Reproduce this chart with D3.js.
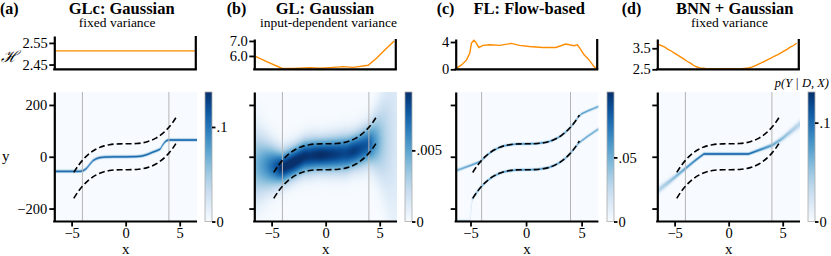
<!DOCTYPE html>
<html>
<head>
<meta charset="utf-8">
<script src="https://cdn.jsdelivr.net/npm/d3@7"></script>
<style>
  body { margin: 0; background: #fff; }
  svg text { font-family: "Liberation Serif", "DejaVu Serif", serif; fill: #000; }
</style>
</head>
<body>
<svg id="chart" width="831" height="256"></svg>
<script>
// ---- data ----
var panelLabels = ['(a)', '(b)', '(c)', '(d)'];
var titles = ['GLc: Gaussian', 'GL: Gaussian', 'FL: Flow-based', 'BNN + Gaussian'];
var subtitles = ['fixed variance', 'input-dependent variance', '', 'fixed variance'];

var xTicks = [-5, 0, 5];
var yTicks = [-200, 0, 200];
var trainEdges = [-4, 4];

// dashed bounds of the true function
var boundX = [-4.8, -4.4, -4.0, -3.6, -3.2, -2.8, -2.4, -2.0, -1.5, -1.0, -0.5, 0, 0.5, 1.0, 1.5, 2.0, 2.4, 2.8, 3.2, 3.6, 4.0, 4.4, 4.8];
var boundUpper = [-60.6, -35.2, -14, 3.3, 17.2, 28, 36.2, 42, 46.6, 49, 49.9, 50, 50.1, 51, 53.4, 58, 63.8, 72, 82.8, 96.7, 114, 135.2, 160.6];
var boundLower = [-160.6, -135.2, -114, -96.7, -82.8, -72, -63.8, -58, -53.4, -51, -50.1, -50, -49.9, -49, -46.6, -42, -36.2, -28, -17.2, -3.3, 14, 35.2, 60.6];

// entropy curves (top row)
var entX_a = [-6.6, 6.6];
var ent_a = [2.513, 2.513];
var entX_b = [-6.6, -5.44, -4.05, -2.97, -1.42, -0.46, 0.46, 1.7, 2.63, 4.02, 4.8, 5.57, 6.45];
var ent_b = [6.0, 5.62, 5.18, 5.16, 5.22, 5.18, 5.22, 5.29, 5.24, 5.38, 5.84, 6.4, 7.0];
var entX_c = [-6.33, -5.8, -5.34, -5.05, -4.9, -4.68, -4.5, -4.23, -3.85, -3.24, -2.34, -1.29, -0.54, 0.36, 1.56, 2.76, 3.66, 4.41, 4.71, 4.93, 5.32, 5.77, 6.22, 6.4];
var ent_c = [0.1, 0.64, 1.38, 2.37, 3.85, 4.24, 3.95, 3.2, 3.5, 3.6, 3.5, 3.8, 3.5, 3.35, 3.2, 3.2, 3.7, 3.45, 3.6, 3.1, 2.12, 1.38, 0.39, 0.15];
var entX_d = [-6.5, -6.2, -5.9, -5.6, -5.3, -5.0, -4.7, -4.4, -4.1, -3.8, -3.5, -3.2, -2.9, -2.6, -2.3, -2.0, -1.5, -1.0, -0.5, 0, 0.5, 1.0, 1.5, 1.9, 2.2, 2.5, 2.8, 3.1, 3.4, 3.7, 4.0, 4.3, 4.6, 4.9, 5.2, 5.5, 5.8, 6.1, 6.4];
var ent_d = [3.68, 3.62, 3.55, 3.45, 3.37, 3.27, 3.17, 3.08, 2.98, 2.87, 2.79, 2.68, 2.61, 2.57, 2.55, 2.53, 2.53, 2.52, 2.53, 2.52, 2.53, 2.52, 2.54, 2.56, 2.6, 2.66, 2.73, 2.8, 2.88, 2.96, 3.03, 3.12, 3.19, 3.27, 3.36, 3.45, 3.55, 3.63, 3.74];

// predictive means (bottom row)
var meanX_a = [-6.6, -4.2, -3.9, -3.6, -3.3, -3.0, -2.7, -2.4, -2.0, -1.0, 0, 1.0, 1.5, 2.0, 2.5, 2.9, 3.2, 3.4, 3.6, 3.8, 4.0, 6.6];
var mean_a = [-56, -56, -53, -44, -28, -14, -7, -3, -1, 0, 0, 1, 3, 9, 18, 24, 30, 44, 56, 63, 65, 65];
var meanX_b = [-6.6, -5.5, -4.5, -4.0, -3.0, -2.0, -1.0, 0, 1.0, 2.0, 3.0, 4.0, 4.5, 5.0, 5.5, 6.6];
var mean_b = [-30, -34, -40, -42, -22, 0, 6, 8, 10, 14, 28, 47, 55, 60, 65, 72];
var upperX_c = [-6.33, -5.5, -4.8, -4.4, -4.1, -3.8, -3.5, -3.0, -2.5, -2.0, -1.0, 0, 1.0, 2.0, 2.5, 3.0, 3.5, 4.0, 4.4, 4.7, 5.0, 5.6, 6.5];
var upper_c = [-54, -41, -30, -23, -18, -5, 7, 23, 34, 42, 49, 50, 51, 58, 66, 77, 93, 114, 135, 154, 166, 178, 194];
var lowerX_c = [-5.05, -4.95, -4.85, -4.6, -4.2, -3.8, -3.5, -3.0, -2.5, -2.0, -1.0, 0, 1.0, 2.0, 2.5, 3.0, 3.5, 4.0, 4.4, 4.7, 5.5, 6.5];
var lower_c = [-250, -200, -164, -147, -124, -105, -93, -77, -66, -58, -51, -50, -49, -42, -34, -23, -7, 14, 35, 52, 78, 107];
var sdX_c = [-6.33, -4.5, 4.5, 6.5];
var sd_c = [3.5, 2.5, 2.5, 3.5];
var meanX_d = [-6.6, -5.52, -4.08, -3.06, -2.3, -1.0, 0, 1.0, 1.84, 3.07, 4.05, 4.91, 6.6];
var mean_d = [-132, -97, -48, -13, 11, 11, 11, 11, 11, 30, 45, 69, 127];

// colorbar ranges and ticks
var cbMax = [0.137, 0.0091, 0.101, 0.131];
var cbTicks = [[0, 0.1], [0, 0.005], [0, 0.05], [0, 0.1]];
var cbLabels = [['0', '.1'], ['0', '.005'], ['0', '.05'], ['0', '.1']];

// entropy axis ranges and ticks
var entDomains = [[2.428, 2.582], [5.11, 7.13], [0, 4.44], [2.5, 3.94]];
var entTicks = [[2.45, 2.55], [6.0, 7.0], [0, 4], [2.5, 3.5]];
var entFormats = ['.2f', '.1f', 'd', '.1f'];

// ---- layout ----
var layout = [
  { left: 54.3,  xdom: [-6.6, 6.6],   cb: 205, label: 0,     titleX: 121.7, subX: 117.2, topY: 36 },
  { left: 254.3, xdom: [-6.6, 6.6],   cb: 405, label: 226.7, titleX: 325,   subX: 328.5, topY: 39 },
  { left: 455.7, xdom: [-6.33, 6.51], cb: 607, label: 436.7, titleX: 529.2, subX: 529,   topY: 39 },
  { left: 657.3, xdom: [-6.6, 6.6],   cb: 808, label: 621.7, titleX: 734.7, subX: 729.5, topY: 39 }
];
var heatW = 142.7, heatTop = 92, heatBot = 221.5;
var entW = 141.5, entBot = 69.3;
var cbW = 7;
var tickFont = 14.5;

var svg = d3.select('#chart');
var defs = svg.append('defs');

// ---- helpers ----
var halfLog2pie = 0.5 * Math.log(2 * Math.PI * Math.E);
var sqrt2pi = Math.sqrt(2 * Math.PI);
function curve(xs, ys) { return d3.scaleLinear().domain(xs).range(ys).clamp(true); }
function sdFromEntropy(xs, hs) {
  var h = curve(xs, hs);
  return function(x) { return Math.exp(h(x) - halfLog2pie); };
}

var components = [
  [{ w: 1, mean: curve(meanX_a, mean_a), sd: sdFromEntropy(entX_a, ent_a) }],
  [{ w: 1, mean: curve(meanX_b, mean_b), sd: sdFromEntropy(entX_b, ent_b) }],
  [{ w: 0.5, mean: curve(upperX_c, upper_c), sd: curve(sdX_c, sd_c) },
   { w: 0.5, mean: curve(lowerX_c, lower_c), sd: curve(sdX_c, sd_c) }],
  [{ w: 1, mean: curve(meanX_d, mean_d), sd: sdFromEntropy(entX_d, ent_d) }]
];
var entX = [entX_a, entX_b, entX_c, entX_d];
var entY = [ent_a, ent_b, ent_c, ent_d];

function drawHeat(g, L, x, y, comps, vmax) {
  var nc = Math.round(heatW), nr = Math.round(heatBot - heatTop);
  var canvas = document.createElement('canvas');
  canvas.width = nc; canvas.height = nr;
  var ctx = canvas.getContext('2d');
  var img = ctx.createImageData(nc, nr);
  var color = d3.scaleSequential(d3.interpolateBlues).domain([0, vmax]).clamp(true);
  var xc = d3.scaleLinear().domain(x.domain()).range([0, nc]);
  var yc = d3.scaleLinear().domain(y.domain()).range([nr, 0]);
  var S = 6, blur = 1.5;
  var dens = new Float64Array(nc * nr);
  for (var i = 0; i < nc; i++) {
    for (var s = 0; s < S; s++) {
      var xv = xc.invert(i + (s + 0.5) / S);
      comps.forEach(function(c) {
        var mu = c.mean(xv), sd = Math.hypot(c.sd(xv), blur);
        for (var j = 0; j < nr; j++) {
          var z = (yc.invert(j + 0.5) - mu) / sd;
          dens[j * nc + i] += c.w * Math.exp(-0.5 * z * z) / (sd * sqrt2pi) / S;
        }
      });
    }
  }
  for (var k = 0; k < nc * nr; k++) {
    var col = d3.rgb(color(dens[k]));
    img.data[4 * k] = col.r; img.data[4 * k + 1] = col.g; img.data[4 * k + 2] = col.b; img.data[4 * k + 3] = 255;
  }
  ctx.putImageData(img, 0, 0);
  g.append('image')
    .attr('href', canvas.toDataURL())
    .attr('x', L.left).attr('y', heatTop)
    .attr('width', heatW).attr('height', heatBot - heatTop)
    .attr('preserveAspectRatio', 'none');
}

function styleAxis(sel) {
  sel.select('.domain').attr('stroke', '#000').attr('stroke-width', 2.2);
  sel.selectAll('.tick line').attr('stroke', '#000').attr('stroke-width', 1.8);
  sel.selectAll('.tick text').attr('font-size', tickFont).attr('font-family', '"Liberation Serif", serif');
}

// ---- panels ----
layout.forEach(function(L, p) {
  var g = svg.append('g');

  // titles
  g.append('text').attr('x', L.label).attr('y', 14)
    .attr('font-size', 16).attr('font-weight', 'bold').text(panelLabels[p]);
  g.append('text').attr('x', L.titleX).attr('y', 14).attr('text-anchor', 'middle')
    .attr('font-size', 16.5).attr('font-weight', 'bold').text(titles[p]);
  if (subtitles[p]) {
    g.append('text').attr('x', L.subX).attr('y', 26.5).attr('text-anchor', 'middle')
      .attr('font-size', 13.5).text(subtitles[p]);
  }

  // entropy plot
  var ex = d3.scaleLinear().domain(L.xdom).range([L.left, L.left + entW]);
  var ey = d3.scaleLinear().domain(entDomains[p]).range([entBot, L.topY]);
  var eg = g.append('g');
  eg.append('path')
    .datum(d3.zip(entX[p], entY[p]))
    .attr('fill', 'none').attr('stroke', '#ff8c00').attr('stroke-width', 1.4)
    .attr('d', d3.line().x(function(d) { return ex(d[0]); }).y(function(d) { return ey(d[1]); }));
  var eAx = eg.append('g').attr('transform', 'translate(' + L.left + ',0)')
    .call(d3.axisLeft(ey).tickValues(entTicks[p]).tickFormat(d3.format(entFormats[p])).tickSize(5).tickSizeOuter(0).tickPadding(1.5));
  styleAxis(eAx);
  eg.append('line').attr('x1', L.left - 1.1).attr('x2', L.left + entW + 1.1).attr('y1', entBot).attr('y2', entBot)
    .attr('stroke', '#000').attr('stroke-width', 2.2);
  eg.append('line').attr('x1', L.left + entW).attr('x2', L.left + entW).attr('y1', L.topY).attr('y2', entBot)
    .attr('stroke', '#000').attr('stroke-width', 2.2);

  // density heatmap
  var x = d3.scaleLinear().domain(L.xdom).range([L.left, L.left + heatW]);
  var y = d3.scaleLinear().domain([-250, 250]).range([heatBot, heatTop]);
  drawHeat(g, L, x, y, components[p], cbMax[p]);

  g.selectAll('.train').data(trainEdges).join('line')
    .attr('x1', function(d) { return x(d); }).attr('x2', function(d) { return x(d); })
    .attr('y1', heatTop).attr('y2', heatBot)
    .attr('stroke', '#b4b4b4').attr('stroke-width', 1);

  var dash = d3.line().curve(d3.curveCatmullRom)
    .x(function(d) { return x(d[0]); }).y(function(d) { return y(d[1]); });
  [boundUpper, boundLower].forEach(function(b) {
    g.append('path').datum(d3.zip(boundX, b))
      .attr('fill', 'none').attr('stroke', '#000').attr('stroke-width', 1.6)
      .attr('stroke-dasharray', '6,3').attr('d', dash);
  });

  var yAx = g.append('g').attr('transform', 'translate(' + L.left + ',0)')
    .call(d3.axisLeft(y).tickValues(yTicks).tickSize(5).tickSizeOuter(0).tickPadding(2)
      .tickFormat(p === 0 ? d3.format('d') : function() { return ''; }));
  styleAxis(yAx);
  var xAx = g.append('g').attr('transform', 'translate(0,' + heatBot + ')')
    .call(d3.axisBottom(x).tickValues(xTicks).tickSize(5).tickSizeOuter(0).tickPadding(1.5).tickFormat(d3.format('d')));
  styleAxis(xAx);
  xAx.select('.domain').attr('d', 'M' + (L.left - 1.1) + ',0H' + (L.left + heatW));

  g.append('text').attr('x', L.left + heatW / 2).attr('y', 254).attr('text-anchor', 'middle')
    .attr('font-size', 15).text('x');

  // colorbar
  var gid = 'cbgrad' + p;
  var grad = defs.append('linearGradient').attr('id', gid)
    .attr('x1', 0).attr('y1', 1).attr('x2', 0).attr('y2', 0);
  d3.range(0, 1.0001, 0.05).forEach(function(t) {
    grad.append('stop').attr('offset', t).attr('stop-color', d3.interpolateBlues(t));
  });
  var cy = d3.scaleLinear().domain([0, cbMax[p]]).range([heatBot, heatTop]);
  g.append('rect').attr('x', L.cb).attr('y', heatTop).attr('width', cbW).attr('height', heatBot - heatTop)
    .attr('fill', 'url(#' + gid + ')').attr('stroke', '#aaa').attr('stroke-width', 0.8);
  var cAx = g.append('g').attr('transform', 'translate(' + (L.cb + cbW) + ',0)')
    .call(d3.axisRight(cy).tickValues(cbTicks[p]).tickSize(3.5).tickPadding(1)
      .tickFormat(function(d, i) { return cbLabels[p][i]; }));
  styleAxis(cAx);
  cAx.select('.domain').remove();
});

// shared labels
svg.append('text').attr('x', 2).attr('y', 160.5).attr('font-size', 15).text('y');
svg.append('text').attr('x', 1).attr('y', 62).attr('font-size', 16).attr('font-style', 'italic').text('\u210B');
svg.append('text').attr('x', 829).attr('y', 87).attr('text-anchor', 'end')
  .attr('font-size', 12.5).attr('font-style', 'italic').text('p(Y | D, X)');
</script>
</body>
</html>
